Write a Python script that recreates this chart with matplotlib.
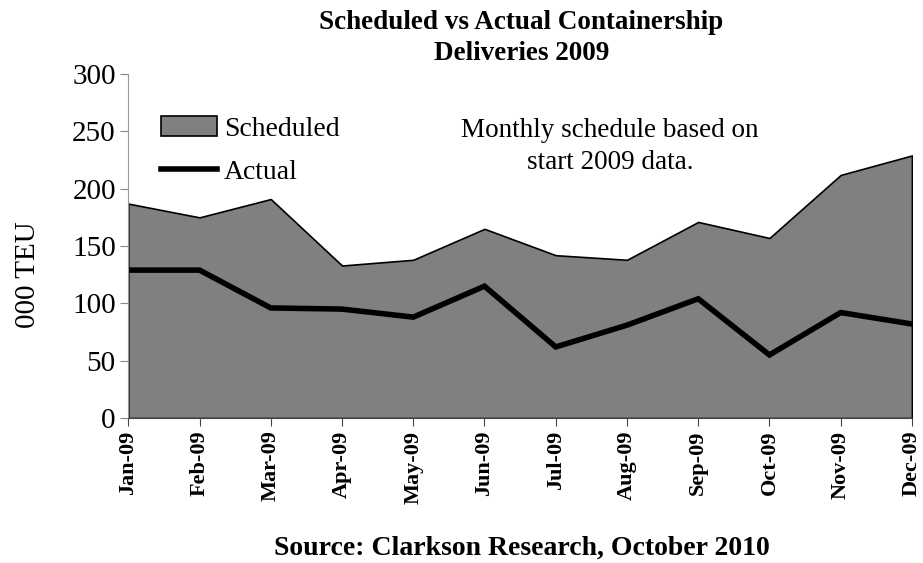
"""Scheduled vs actual containership deliveries, 2009."""

import matplotlib

matplotlib.use("Agg")

import matplotlib.pyplot as plt
from matplotlib.lines import Line2D
from matplotlib.patches import Patch


MONTHS = ["Jan-09", "Feb-09", "Mar-09", "Apr-09", "May-09", "Jun-09",
          "Jul-09", "Aug-09", "Sep-09", "Oct-09", "Nov-09", "Dec-09"]
SCHEDULED = [187, 175, 191, 133, 138, 165, 142, 138, 171, 157, 212, 229]
ACTUAL = [129, 129, 96, 95, 88, 115, 62, 81, 104, 55, 92, 82]
Y_TICKS = [0, 50, 100, 150, 200, 250, 300]

plt.rcParams["font.family"] = ["Liberation Serif", "DejaVu Serif"]

fig = plt.figure(figsize=(9.23, 5.63), dpi=100)
ax = fig.add_axes([0.139, 0.2575, 0.849, 0.611])

x = list(range(len(MONTHS)))
ax.fill_between(x, SCHEDULED, 0, facecolor="#808080", edgecolor="black",
                linewidth=1.2)
ax.plot(x, ACTUAL, color="black", linewidth=4, solid_joinstyle="miter")

ax.set_xlim(0, len(MONTHS) - 1)
ax.set_ylim(0, 300)
ax.set_yticks(Y_TICKS)
ax.set_xticks(x)
ax.set_xticklabels(MONTHS, rotation=90, fontsize=16, fontweight="bold")
ax.tick_params(axis="y", labelsize=21, length=6, color="#888888", pad=3)
ax.tick_params(axis="x", length=6, color="#444444", pad=3)
for side in ("top", "right"):
    ax.spines[side].set_visible(False)
ax.spines["left"].set_color("#999999")
ax.spines["bottom"].set_color("#444444")

ax.set_ylabel("000 TEU", fontsize=21)
ax.yaxis.set_label_coords(-0.112, 0.416)

handles = [
    Patch(facecolor="#808080", edgecolor="black", linewidth=1.2),
    Line2D([0], [0], color="black", linewidth=4),
]
ax.legend(handles, ["Scheduled", "Actual"], loc="upper left",
          bbox_to_anchor=(0.01, 0.95), frameon=False, fontsize=20,
          handlelength=2.0, handletextpad=0.25, labelspacing=0.65)

ax.text(0.615, 0.79, "Monthly schedule based on\nstart 2009 data.",
        transform=ax.transAxes, ha="center", va="center", fontsize=19.5,
        linespacing=1.35)

fig.text(0.565, 0.932, "Scheduled vs Actual Containership\nDeliveries 2009",
         ha="center", va="center", fontsize=19.5, fontweight="bold",
         linespacing=1.3)
fig.text(0.565, 0.027, "Source: Clarkson Research, October 2010",
         ha="center", va="center", fontsize=20, fontweight="bold")

fig.savefig("out.png", dpi=100)
plt.close(fig)
